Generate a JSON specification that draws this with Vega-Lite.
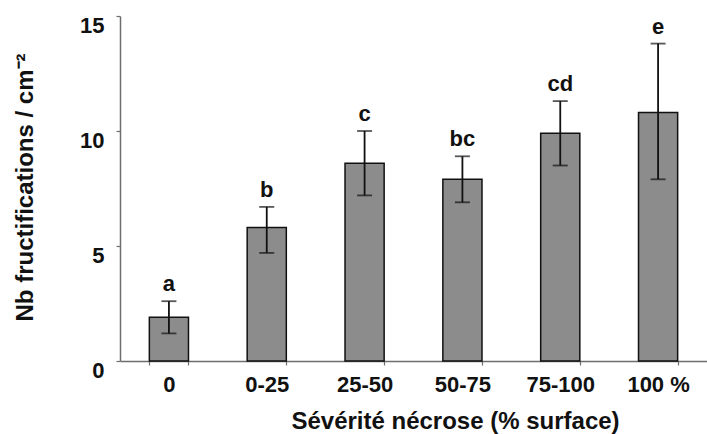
{
  "$schema": "https://vega.github.io/schema/vega-lite/v6.json",
  "autosize": "none",
  "width": 587,
  "height": 345,
  "padding": {"left": 120, "top": 16, "right": 0, "bottom": 73},
  "background": "white",
  "config": {
    "view": {"stroke": null},
    "font": "Liberation Sans",
    "axis": {"grid": false, "domainColor": "#6e6e6e", "tickColor": "#6e6e6e", "domainWidth": 1.5, "tickWidth": 1.2, "labelFont": "Liberation Sans", "labelFontWeight": "bold", "labelColor": "#111", "titleFont": "Liberation Sans", "titleFontWeight": "bold", "titleColor": "#111"}
  },
  "data": {
    "values": [
      {"cat": "0", "mean": 1.9, "lower": 1.2, "upper": 2.6, "letter": "a"},
      {"cat": "0-25", "mean": 5.8, "lower": 4.7, "upper": 6.7, "letter": "b"},
      {"cat": "25-50", "mean": 8.6, "lower": 7.2, "upper": 10.0, "letter": "c"},
      {"cat": "50-75", "mean": 7.9, "lower": 6.9, "upper": 8.9, "letter": "bc"},
      {"cat": "75-100", "mean": 9.9, "lower": 8.5, "upper": 11.3, "letter": "cd"},
      {"cat": "100 %", "mean": 10.8, "lower": 7.9, "upper": 13.8, "letter": "e"}
    ]
  },
  "encoding": {
    "x": {
      "field": "cat", "type": "nominal", "sort": null,
      "scale": {"paddingInner": 0.6, "paddingOuter": 0.3},
      "axis": {"title": "Sévérité nécrose (% surface)", "labelAngle": 0, "labelFontSize": 22, "titleFontSize": 24, "tickBand": "extent", "tickSize": 4, "labelPadding": 9, "titleX": 335, "titleAnchor": "middle", "titleAlign": "center", "titleY": 60, "titleBaseline": "middle"}
    }
  },
  "layer": [
    {
      "mark": {"type": "bar", "fill": "#8c8c8c", "stroke": "#111", "strokeWidth": 1.5},
      "encoding": {
        "y": {"field": "mean", "type": "quantitative", "scale": {"domain": [0, 15], "nice": false},
          "axis": {"title": "Nb fructifications / cm⁻²", "values": [0, 5, 10, 15], "labelFontSize": 22, "titleFontSize": 24, "tickSize": 4, "labelPadding": 12, "labelOffset": 9, "titleX": -95, "titleY": 171, "titleAngle": -90, "titleAlign": "center", "titleBaseline": "middle"}}
      }
    },
    {
      "mark": {"type": "rule", "color": "#111", "strokeWidth": 1.8},
      "encoding": {"y": {"field": "lower", "type": "quantitative"}, "y2": {"field": "upper"}}
    },
    {
      "mark": {"type": "tick", "color": "#111", "thickness": 1.8, "size": 15, "orient": "horizontal"},
      "encoding": {"y": {"field": "upper", "type": "quantitative"}}
    },
    {
      "mark": {"type": "tick", "color": "#111", "thickness": 1.8, "size": 15, "orient": "horizontal"},
      "encoding": {"y": {"field": "lower", "type": "quantitative"}}
    },
    {
      "mark": {"type": "text", "fontWeight": "bold", "fontSize": 22, "baseline": "bottom", "dy": -5, "color": "#111"},
      "encoding": {"y": {"field": "upper", "type": "quantitative"}, "text": {"field": "letter"}}
    }
  ]
}
